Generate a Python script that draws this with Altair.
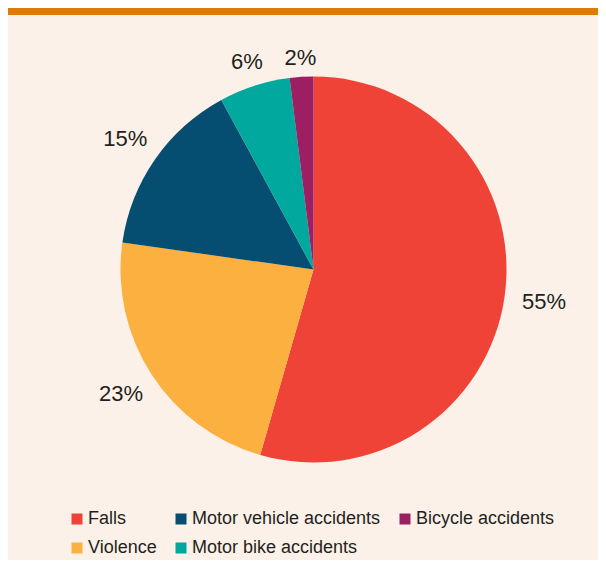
import altair as alt
import pandas as pd

# Data
categories = ["Falls", "Violence", "Motor vehicle accidents", "Motor bike accidents", "Bicycle accidents"]
values = [55, 23, 15, 6, 2]
labels = ["55%", "23%", "15%", "6%", "2%"]
slice_rank = [1, 2, 3, 4, 5]
colors = ["#ef4338", "#fbb040", "#054e72", "#00a89d", "#9c1e63"]

df = pd.DataFrame({"category": categories, "value": values, "label": labels, "rank": slice_rank})

W, H = 590, 552
CX, CY = 305.5, 261.5
BG = "#fbf1e8"
TXT = "#231f20"
FONT = "Liberation Sans"

base = alt.Chart(df)

pie = base.mark_arc(outerRadius=193, innerRadius=0).encode(
    theta=alt.Theta("value:Q", stack=True),
    order=alt.Order("rank:Q"),
    color=alt.Color(
        "category:N",
        sort=categories,
        scale=alt.Scale(domain=categories, range=colors),
        legend=alt.Legend(
            orient="none", legendX=60, legendY=502, columns=3, title=None,
            direction="vertical", gridAlign="each",
            symbolType="square", symbolSize=121, symbolStrokeWidth=0, symbolOpacity=1,
            labelFontSize=18, labelFont=FONT, labelColor=TXT, labelLimit=400,
            columnPadding=15, rowPadding=11, labelOffset=2, padding=0,
        ),
    ),
    x=alt.value(CX),
    y=alt.value(CY),
)

text = base.transform_joinaggregate(
    total="sum(value)"
).transform_window(
    cum="sum(value)", sort=[alt.SortField("rank")], frame=[None, 0]
).transform_calculate(
    mid="(datum.cum - datum.value/2)/datum.total*2*PI",
    labelR="211 + 22*abs(sin(datum.mid))",
).mark_text(fontSize=22, font=FONT, color=TXT, baseline="middle", align="center").encode(
    theta=alt.Theta("mid:Q", scale=None, stack=False),
    radius=alt.Radius("labelR:Q", scale=None),
    text="label:N",
    x=alt.value(CX),
    y=alt.value(CY),
)

bar = alt.Chart(alt.Data(values=[{"a": 1}])).mark_rect(color="#e07a00").encode(
    x=alt.value(0), x2=alt.value(W), y=alt.value(0), y2=alt.value(7)
)

chart = alt.layer(bar, pie, text).properties(
    width=W, height=H, padding=0, background=BG,
    autosize=alt.AutoSizeParams(type="none"),
).configure_view(stroke=None)

chart.save("out.html", embed_options={"renderer": "svg", "actions": False})
